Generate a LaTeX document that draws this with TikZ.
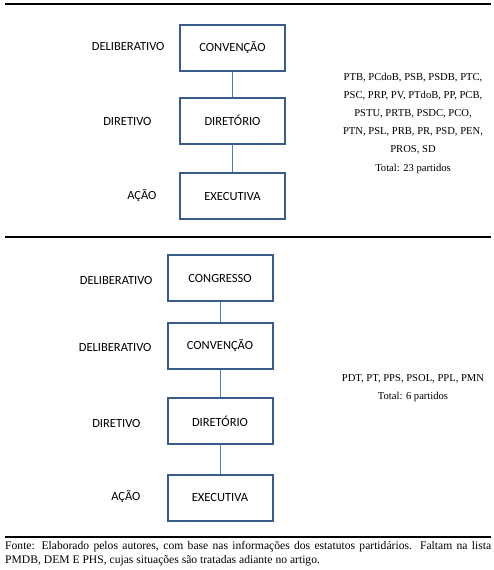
\documentclass[tikz,border=0pt]{standalone}
\usepackage{fontspec}
\setmainfont{Liberation Serif}
\newfontfamily\boxfont{Carlito}
\usetikzlibrary{positioning}
\definecolor{boxblue}{HTML}{385D8A}
\definecolor{lineblue}{HTML}{4A7EBB}

\begin{document}
\begin{tikzpicture}[x=1pt, y=-1pt,
organ/.style={draw=boxblue, line width=2pt, minimum width=105pt, minimum height=46pt, font=\boxfont\fontsize{12.5}{14}\selectfont},
level/.style={font=\boxfont\fontsize{12.5}{14}\selectfont},
link/.style={draw=lineblue, line width=1pt},
rule/.style={line width=2pt},
parties/.style={align=center, font=\fontsize{10.6}{18.2}\selectfont}]
\useasboundingbox (0,0) rectangle (494,570);
\draw [rule] (5,3.5) -- (491,3.5);
% first model
\begin{scope}
\node [organ] (conv1) at (232.5,47.5) {CONVENÇÃO};
\node [organ] (dir1) at (232.5,120.5) {DIRETÓRIO};
\node [organ] (exec1) at (232.5,196) {EXECUTIVA};
\draw [link] (conv1) -- (dir1);
\draw [link] (dir1) -- (exec1);
\node [level, anchor=east] (delib1) at (168,46) {DELIBERATIVO};
\node [level, anchor=east] (diret1) at (155,121) {DIRETIVO};
\node [level, anchor=east] (acao1) at (160,196) {AÇÃO};
\node [parties] (list1) at (413,123) {PTB, PCdoB, PSB, PSDB, PTC,\\PSC, PRP, PV, PTdoB, PP, PCB,\\PSTU, PRTB, PSDC, PCO,\\PTN, PSL, PRB, PR, PSD, PEN,\\PROS, SD\\Total: 23 partidos};
\end{scope}
\draw [rule] (5,237) -- (491,237);
% second model
\begin{scope}
\node [organ] (cong2) at (220,278) {CONGRESSO};
\node [organ] (conv2) at (220,346) {CONVENÇÃO};
\node [organ] (dir2) at (220,421) {DIRETÓRIO};
\node [organ] (exec2) at (220,497.5) {EXECUTIVA};
\draw [link] (cong2) -- (conv2);
\draw [link] (conv2) -- (dir2);
\draw [link] (dir2) -- (exec2);
\node [level, anchor=east] (delib2) at (156,280) {DELIBERATIVO};
\node [level, anchor=east] (delib3) at (155,347) {DELIBERATIVO};
\node [level, anchor=east] (diret2) at (144,423) {DIRETIVO};
\node [level, anchor=east] (acao2) at (144,497) {AÇÃO};
\node [parties] (list2) at (413,388) {PDT, PT, PPS, PSOL, PPL, PMN\\Total: 6 partidos};
\end{scope}
\draw [line width=1.5pt] (5,537) -- (491,537);
\node [anchor=north west, inner sep=0pt, text width=486pt, align=justify, font=\fontsize{11.6}{14}\selectfont] (fonte) at (5,541) {Fonte: Elaborado pelos autores, com base nas informações dos estatutos partidários. Faltam na lista\linebreak PMDB, DEM E PHS, cujas situações são tratadas adiante no artigo.};
\end{tikzpicture}
\end{document}
